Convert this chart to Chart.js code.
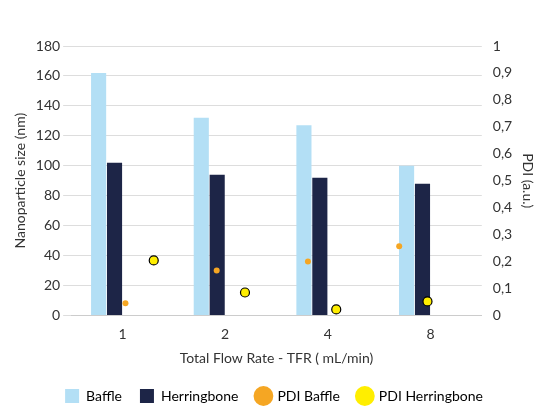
<!DOCTYPE html>
<html><head><meta charset="utf-8">
<script src="https://cdn.jsdelivr.net/npm/chart.js@4"></script>
<style>html,body{margin:0;padding:0;background:#fff}#w{width:550px;height:417px}</style>
</head><body><div id="w"><canvas id="c"></canvas></div>
<script>
const categories = ['1','2','4','8'];
const baffle = [162, 132, 127, 100];
const herringbone = [102, 94, 92, 88];
const pdiBaffle = [0.045, 0.167, 0.2, 0.257];
const pdiHerringbone = [0.204, 0.085, 0.022, 0.052];
const shift = 0.155;

Chart.defaults.font.family = 'Lato, "Open Sans", sans-serif';
Chart.defaults.color = '#333';
new Chart(document.getElementById('c'), {
  type: 'bar',
  data: { labels: categories, datasets: [
    {label:'Baffle', data: baffle, backgroundColor:'#b3dff5', yAxisID:'y', order:2, barPercentage:0.95, categoryPercentage:0.62},
    {label:'Herringbone', data: herringbone, backgroundColor:'#1d2547', yAxisID:'y', order:2, barPercentage:0.95, categoryPercentage:0.62},
    {type:'scatter', label:'PDI Baffle', data: pdiBaffle.map((v,i)=>({x:i-shift,y:v})), xAxisID:'x2', yAxisID:'y1', backgroundColor:'#f5a623', borderWidth:0, pointRadius:3, order:1},
    {type:'scatter', label:'PDI Herringbone', data: pdiHerringbone.map((v,i)=>({x:i+shift,y:v})), xAxisID:'x2', yAxisID:'y1', backgroundColor:'#ffee00', borderColor:'#000', borderWidth:1.2, pointRadius:4.5, order:1}
  ]},
  options: { responsive:true, maintainAspectRatio:false, animation:false,
    layout:{padding:{left:8,right:10,top:46,bottom:4}},
    plugins:{ legend:{ position:'bottom', labels:{ font:{size:14}, boxWidth:14, boxHeight:14, padding:18, usePointStyle:true,
      generateLabels(chart){ return chart.data.datasets.map((d,i)=>({text:d.label, fillStyle:d.backgroundColor, strokeStyle:d.backgroundColor, lineWidth:0, datasetIndex:i, pointStyle: i>1?'circle':'rect'})); } } },
      tooltip:{enabled:false} },
    scales:{
      x:{ type:'category', offset:true, grid:{display:false}, border:{color:'#ccc'}, ticks:{font:{size:14}},
          title:{display:true, text:'Total Flow Rate - TFR ( mL/min)', font:{size:14}} },
      x2:{ type:'linear', min:-0.5, max:3.5, display:false },
      y:{ min:0, max:180, ticks:{stepSize:20, font:{size:14}}, grid:{color:'#ddd'}, border:{display:false},
          title:{display:true, text:'Nanoparticle size (nm)', font:{size:14}} },
      y1:{ position:'right', min:0, max:1, ticks:{stepSize:0.1, font:{size:14}, callback:v=>String(Math.round(v*10)/10).replace('.',',')},
          grid:{display:false}, border:{display:false},
          title:{display:true, text:'PDI (a.u.)', font:{size:14}} }
    }
  }
});
</script></body></html>
